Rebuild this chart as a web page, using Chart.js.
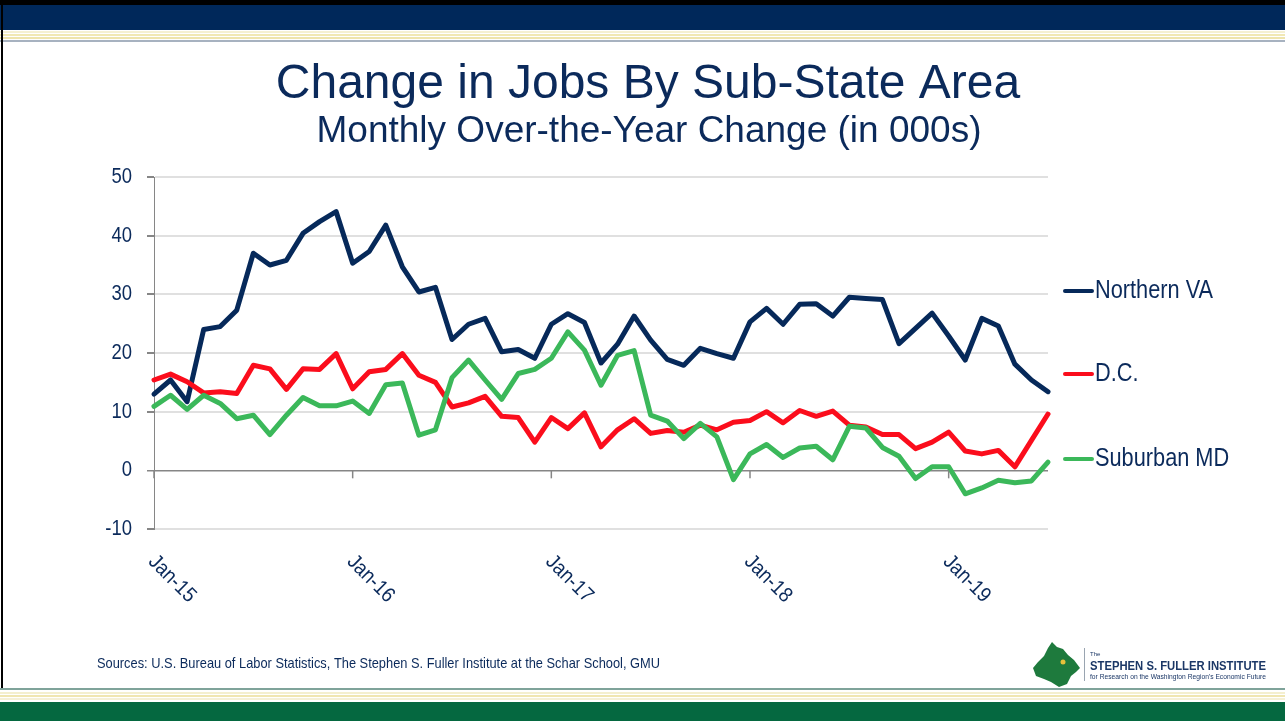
<!DOCTYPE html>
<html>
<head>
<meta charset="utf-8">
<title>Change in Jobs By Sub-State Area</title>
<script src="https://cdn.jsdelivr.net/npm/chart.js@4.4.1/dist/chart.umd.min.js"></script>
<style>
  html, body { margin: 0; padding: 0; background: #fff; }
  #slide { position: relative; width: 1285px; height: 721px; overflow: hidden; background: #fff; }
  .band { position: absolute; left: 0; width: 1285px; }
  canvas { position: absolute; left: 0; top: 0; }
</style>
</head>
<body>
<div id="slide">
  <!-- top bar -->
  <div class="band" style="top:0;height:5px;background:#000"></div>
  <div class="band" style="top:5px;height:25px;background:#00285a"></div>
  <div class="band" style="top:31px;height:2px;background:#f5f0d2"></div>
  <div class="band" style="top:34px;height:2px;background:#f1e8b4"></div>
  <div class="band" style="top:37px;height:2px;background:#eee4ad"></div>
  <div class="band" style="top:40px;height:2px;background:#a7b2c0"></div>
  <div style="position:absolute;left:1px;top:0;width:2px;height:690px;background:#000"></div>
  <!-- bottom bar -->
  <div class="band" style="top:688px;height:2px;background:#7fa39a"></div>
  <div class="band" style="top:692px;height:2px;background:#f4efcf"></div>
  <div class="band" style="top:695px;height:2px;background:#f0e6b2"></div>
  <div class="band" style="top:698px;height:2px;background:#f5f0d6"></div>
  <div class="band" style="top:702px;height:19px;background:#056840"></div>
  <canvas id="jobsChart" width="1285" height="721"></canvas>
</div>
<script>
// Monthly over-the-year change in jobs (000s), Jan-15 .. Jul-19
const monthNames = ['Jan', 'Feb', 'Mar', 'Apr', 'May', 'Jun', 'Jul', 'Aug', 'Sep', 'Oct', 'Nov', 'Dec'];
const years = ['15', '16', '17', '18', '19'];
const categories = [];
years.forEach(yr => monthNames.forEach(m => { if (categories.length < 55) categories.push(m + '-' + yr); }));

const northernVA = [13.0, 15.4, 11.7, 24.0, 24.5, 27.3, 37.0, 35.0, 35.8, 40.4, 42.4, 44.1,
  35.3, 37.3, 41.8, 34.7, 30.4, 31.2, 22.3, 24.9, 25.9, 20.2, 20.6, 19.1,
  24.9, 26.7, 25.2, 18.3, 21.5, 26.3, 22.2, 18.9, 17.9, 20.8, 19.9, 19.1,
  25.3, 27.6, 24.9, 28.3, 28.4, 26.3, 29.5, 29.3, 29.1, 21.6, 24.2, 26.8,
  22.9, 18.8, 25.9, 24.6, 18.1, 15.4, 13.4];
const dc = [15.4, 16.4, 15.1, 13.2, 13.4, 13.1, 17.9, 17.3, 13.8, 17.3, 17.2, 19.9,
  13.9, 16.8, 17.2, 19.9, 16.2, 15.0, 10.8, 11.5, 12.6, 9.2, 9.0, 4.8,
  9.0, 7.1, 9.8, 4.0, 6.9, 8.8, 6.3, 6.8, 6.5, 7.7, 6.9, 8.2,
  8.5, 10.0, 8.1, 10.2, 9.2, 10.1, 7.7, 7.4, 6.1, 6.1, 3.7, 4.8,
  6.5, 3.3, 2.8, 3.4, 0.6, 5.1, 9.6];
const suburbanMD = [10.9, 12.8, 10.4, 12.8, 11.4, 8.8, 9.4, 6.1, 9.4, 12.4, 11.0, 11.0,
  11.8, 9.7, 14.6, 14.9, 6.0, 6.9, 15.8, 18.8, 15.4, 12.1, 16.5, 17.2,
  19.1, 23.6, 20.5, 14.5, 19.6, 20.4, 9.4, 8.4, 5.4, 8.0, 5.7, -1.6,
  2.8, 4.4, 2.2, 3.8, 4.1, 1.8, 7.5, 7.2, 3.9, 2.4, -1.4, 0.6,
  0.6, -4.0, -3.0, -1.7, -2.1, -1.8, 1.4];

const seriesNames = ['Northern VA', 'D.C.', 'Suburban MD'];
const yMin = -10, yMax = 50, yStep = 10;

const navy = '#0b2a5b';
const colors = ['#06295a', '#fb0d1c', '#3bb85a'];
const legendY = [291, 374, 459];
const font = '"Liberation Sans", Arial, sans-serif';

function drawText(ctx, txt, x, y, size, opts) {
  opts = opts || {};
  ctx.save();
  ctx.font = (opts.weight || 'normal') + ' ' + size + 'px ' + font;
  ctx.fillStyle = opts.color || navy;
  ctx.textAlign = opts.align || 'left';
  ctx.textBaseline = opts.baseline || 'middle';
  let sx = opts.sx || 1;
  if (opts.fitWidth) sx = opts.fitWidth / ctx.measureText(txt).width;
  ctx.translate(x, y);
  if (opts.rotate) ctx.rotate(opts.rotate);
  ctx.scale(sx, 1);
  ctx.fillText(txt, 0, 0);
  ctx.restore();
}

const slideText = {
  id: 'slideText',
  afterDraw(chart) {
    const ctx = chart.ctx;
    const xs = chart.scales.x, ys = chart.scales.y;

    // titles
    drawText(ctx, 'Change in Jobs By Sub-State Area', 648, 98, 48, { align: 'center', baseline: 'alphabetic' });
    drawText(ctx, 'Monthly Over-the-Year Change (in 000s)', 649, 142, 37, { align: 'center', baseline: 'alphabetic' });

    // y tick labels
    ys.ticks.forEach(t => {
      drawText(ctx, String(t.value), 132, ys.getPixelForValue(t.value), 22, { align: 'right', sx: 0.84 });
    });

    // yearly tick marks on the zero line + rotated labels
    const y0 = ys.getPixelForValue(0);
    ctx.save();
    ctx.strokeStyle = '#868686';
    ctx.lineWidth = 1.5;
    categories.forEach((c, i) => {
      if (i % 12 !== 0) return;
      const x = xs.getPixelForValue(i);
      ctx.beginPath();
      ctx.moveTo(x, y0);
      ctx.lineTo(x, y0 + 8);
      ctx.stroke();
      drawText(ctx, c, x + 5, 551, 21, { baseline: 'top', rotate: Math.PI / 4, sx: 0.9 });
    });
    ctx.restore();

    // legend
    chart.data.datasets.forEach((ds, i) => {
      ctx.save();
      ctx.strokeStyle = ds.borderColor;
      ctx.lineWidth = 4;
      ctx.lineCap = 'round';
      ctx.beginPath();
      ctx.moveTo(1065, legendY[i]);
      ctx.lineTo(1092, legendY[i]);
      ctx.stroke();
      ctx.restore();
      drawText(ctx, ds.label, 1095, legendY[i], 25, { sx: 0.87 });
    });

    // source line
    drawText(ctx, 'Sources: U.S. Bureau of Labor Statistics, The Stephen S. Fuller Institute at the Schar School, GMU',
      97, 664, 15, { fitWidth: 563 });

    // logo
    ctx.save();
    ctx.fillStyle = '#1e7a3d';
    ctx.beginPath();
    const blob = [[1052, 642], [1057, 647], [1063, 649], [1068, 655], [1074, 660], [1080, 668], [1076, 672],
      [1071, 676], [1067, 684], [1059, 687], [1051, 682], [1044, 679], [1036, 676], [1033, 668],
      [1038, 662], [1044, 656], [1048, 648]];
    blob.forEach((p, i) => i ? ctx.lineTo(p[0], p[1]) : ctx.moveTo(p[0], p[1]));
    ctx.closePath();
    ctx.fill();
    ctx.fillStyle = '#e6c13b';
    ctx.beginPath();
    ctx.arc(1063, 662, 2.5, 0, Math.PI * 2);
    ctx.fill();
    ctx.strokeStyle = '#9aa5b1';
    ctx.lineWidth = 1;
    ctx.beginPath();
    ctx.moveTo(1084.5, 648);
    ctx.lineTo(1084.5, 681);
    ctx.stroke();
    ctx.restore();
    drawText(ctx, 'The', 1090, 654, 6, { color: '#1b3766' });
    drawText(ctx, 'STEPHEN S. FULLER INSTITUTE', 1090, 670, 13, { weight: 'bold', baseline: 'alphabetic', fitWidth: 176, color: '#1b3766' });
    drawText(ctx, "for Research on the Washington Region's Economic Future", 1090, 679, 6.5, { baseline: 'alphabetic', fitWidth: 176, color: '#1b3766' });
  }
};

new Chart(document.getElementById('jobsChart'), {
  type: 'line',
  data: {
    labels: categories,
    datasets: [
      { label: seriesNames[0], data: northernVA, borderColor: colors[0], backgroundColor: colors[0], order: 3 },
      { label: seriesNames[1], data: dc, borderColor: colors[1], backgroundColor: colors[1], order: 2 },
      { label: seriesNames[2], data: suburbanMD, borderColor: colors[2], backgroundColor: colors[2], order: 1 }
    ]
  },
  options: {
    responsive: false,
    animation: false,
    devicePixelRatio: 1,
    layout: { padding: { left: 144, right: 237, top: 177, bottom: 192 } },
    elements: {
      line: { tension: 0, borderWidth: 5, borderJoinStyle: 'round', borderCapStyle: 'round' },
      point: { radius: 0, hoverRadius: 0 }
    },
    datasets: { line: { clip: false } },
    plugins: { legend: { display: false }, tooltip: { enabled: false } },
    scales: {
      x: { display: false, offset: false },
      y: {
        min: yMin,
        max: yMax,
        afterFit: s => { s.width = 10; },
        ticks: { stepSize: yStep, display: false },
        border: { color: '#868686', width: 1 },
        grid: {
          color: c => c.tick && c.tick.value === 0 ? '#868686' : '#e0e0e0',
          lineWidth: c => c.tick && c.tick.value === 0 ? 1.5 : 2,
          tickLength: 7,
          tickColor: '#868686'
        }
      }
    }
  },
  plugins: [slideText]
});
</script>
</body>
</html>
